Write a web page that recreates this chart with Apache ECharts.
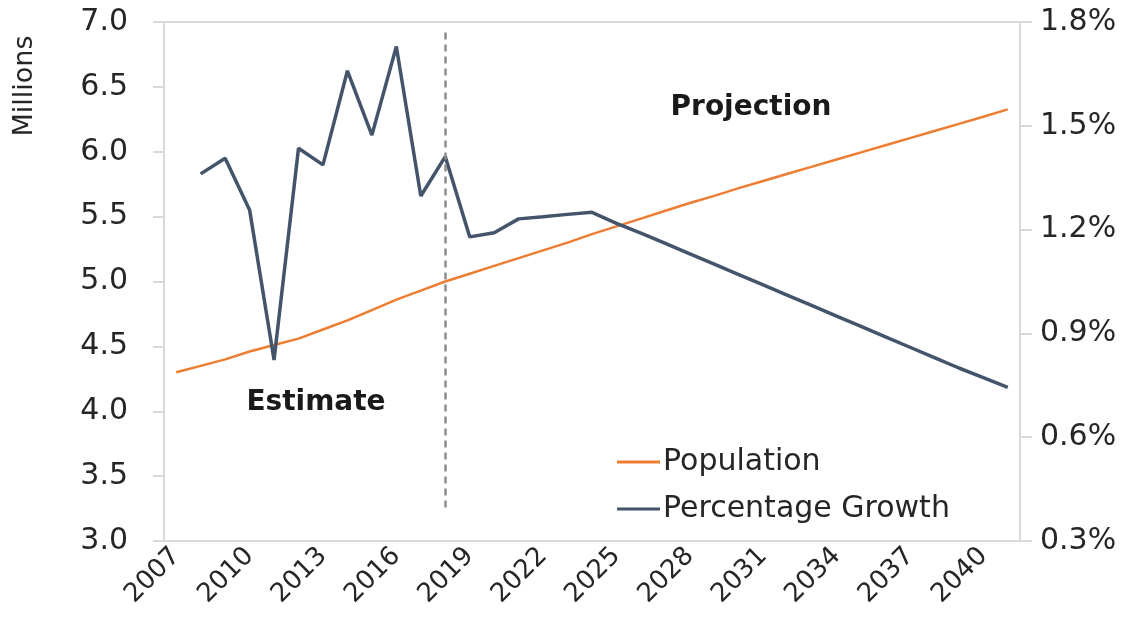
<!DOCTYPE html>
<html>
<head>
<meta charset="utf-8">
<script src="https://cdn.jsdelivr.net/npm/echarts@6/dist/echarts.min.js"></script>
<style>
html,body{margin:0;padding:0;background:#fff;}
#main{width:1144px;height:639px;}
</style>
</head>
<body>
<div id="main"></div>
<script>
const years = ['2007','2008','2009','2010','2011','2012','2013','2014','2015','2016','2017','2018','2019','2020','2021','2022','2023','2024','2025','2026','2027','2028','2029','2030','2031','2032','2033','2034','2035','2036','2037','2038','2039','2040','2041'];
const population = [4.30,4.35,4.40,4.46,4.51,4.56,4.63,4.70,4.78,4.86,4.93,5.00,5.06,5.12,5.18,5.24,5.30,5.365,5.425,5.485,5.545,5.605,5.66,5.72,5.775,5.83,5.885,5.94,5.995,6.05,6.105,6.16,6.215,6.27,6.327];
const growth = [null,1.361,1.406,1.257,0.823,1.435,1.387,1.659,1.473,1.729,1.297,1.411,1.179,1.191,1.231,1.237,1.244,1.250,1.218,1.19,1.16,1.13,1.10,1.07,1.04,1.01,0.98,0.95,0.92,0.89,0.86,0.83,0.80,0.772,0.744];
const leftTicks = {min:3.0, max:7.0, step:0.5};
const rightTicks = {min:0.3, max:1.8, step:0.3};
const dividerYear = '2018';

const FONT = '"DejaVu Sans", sans-serif';
const TXT = '#262626';
const chart = echarts.init(document.getElementById('main'));
chart.setOption({
  animation:false,
  backgroundColor:'#fff',
  textStyle:{fontFamily:FONT},
  grid:{left:164,right:124,top:22,bottom:98,show:true,borderColor:'#d9d9d9',borderWidth:2},
  legend:{
    orient:'vertical', left:612, top:439, icon:'rect', itemWidth:43, itemHeight:3, itemGap:11,
    textStyle:{fontFamily:FONT,fontSize:30,lineHeight:36,color:TXT,padding:[0,0,0,-2]},
    data:['Population','Percentage Growth']
  },
  xAxis:{
    type:'category', data:years, boundaryGap:true,
    axisLine:{lineStyle:{color:'#d9d9d9',width:2}},
    axisTick:{alignWithLabel:true,interval:0,length:7,lineStyle:{color:'#d9d9d9',width:2}},
    axisLabel:{interval:2,rotate:45,fontSize:26,color:TXT,margin:11,fontFamily:FONT}
  },
  yAxis:[
    {type:'value',min:leftTicks.min,max:leftTicks.max,interval:leftTicks.step,
     splitLine:{show:false},
     axisLine:{show:true,lineStyle:{color:'#d9d9d9',width:2}},
     axisTick:{show:true,length:11,lineStyle:{color:'#d9d9d9',width:2}},
     axisLabel:{fontSize:30,color:TXT,margin:36,fontFamily:FONT,formatter:v=>v.toFixed(1)}},
    {type:'value',min:rightTicks.min,max:rightTicks.max,interval:rightTicks.step,position:'right',
     splitLine:{show:false},
     axisLine:{show:true,lineStyle:{color:'#d9d9d9',width:2}},
     axisTick:{show:true,length:12,lineStyle:{color:'#d9d9d9',width:2}},
     axisLabel:{fontSize:30,color:TXT,margin:20,fontFamily:FONT,formatter:v=>v.toFixed(1)+'%'}}
  ],
  series:[
    {name:'Population',type:'line',yAxisIndex:0,data:population,symbol:'none',
     lineStyle:{color:'#ED7D31',width:2.5},itemStyle:{color:'#ED7D31'},z:2,
     markLine:{symbol:'none',silent:true,label:{show:false},
       lineStyle:{color:'#8c8c8c',type:[7,5],width:2.5},
       data:[[{coord:[dividerYear,6.92]},{coord:[dividerYear,3.22]}]]}},
    {name:'Percentage Growth',type:'line',yAxisIndex:1,data:growth,symbol:'none',
     lineStyle:{color:'#44546A',width:3.5},itemStyle:{color:'#44546A'},z:3}
  ],
  graphic:[
    {type:'text',x:25,y:86,rotation:Math.PI/2,
     style:{text:'Millions',fontFamily:FONT,fontSize:27,fill:TXT,textAlign:'center',textVerticalAlign:'middle'}},
    {type:'text',x:751,y:108,
     style:{text:'Projection',fontFamily:FONT,fontSize:28,fontWeight:'bold',fill:'#1a1a1a',textAlign:'center',textVerticalAlign:'middle'}},
    {type:'text',x:316,y:403,
     style:{text:'Estimate',fontFamily:FONT,fontSize:28,fontWeight:'bold',fill:'#1a1a1a',textAlign:'center',textVerticalAlign:'middle'}}
  ]
});
</script>
</body>
</html>
